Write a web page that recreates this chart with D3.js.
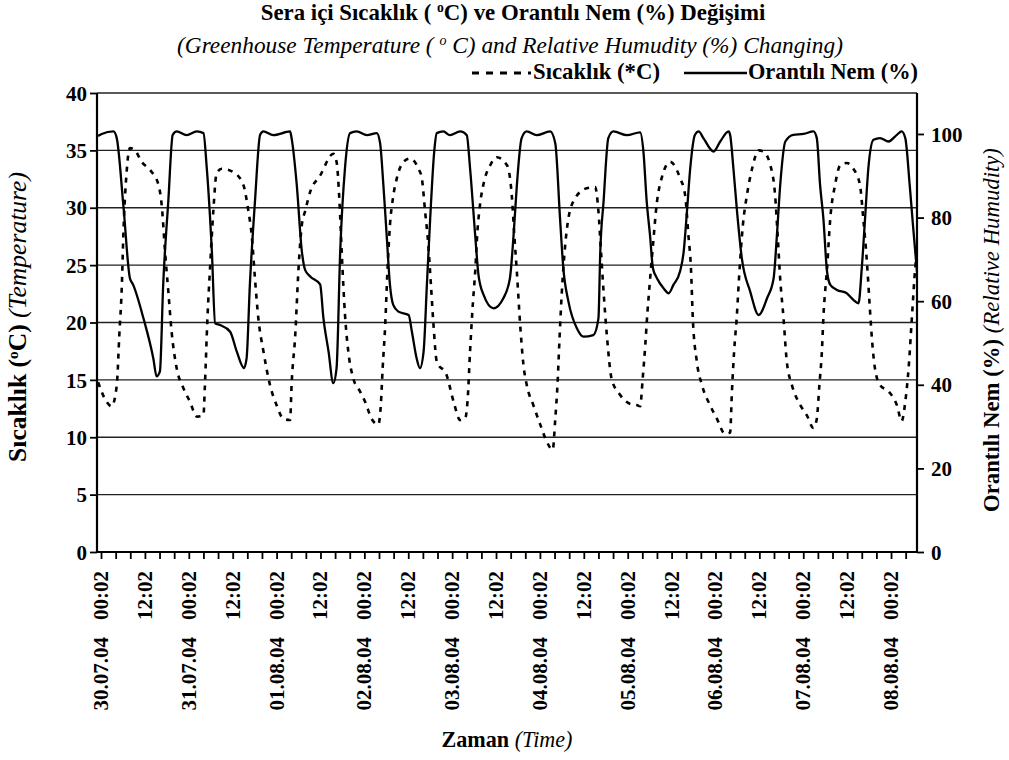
<!DOCTYPE html>
<html><head><meta charset="utf-8">
<script src="https://cdn.jsdelivr.net/npm/d3@7/dist/d3.min.js"></script>
<style>body{margin:0;background:#fff} svg{display:block} text{font-family:"Liberation Serif","Times New Roman",serif;fill:#000}</style>
</head><body><svg id="c" width="1009" height="760"></svg>
<script>
// hours since 30.07.04 00:02
const tempTime = [-0.8,1.5,2.9,4.3,5.0,5.7,6.1,7.0,7.9,9.3,11.1,13.4,15.7,16.6,17.5,18.4,19.3,20.7,22.5,24.3,26.2,28.0,28.4,29.1,29.8,30.7,31.6,33.0,36.2,38.9,40.3,41.2,42.1,43.0,44.4,46.2,48.0,49.9,51.7,52.1,53.1,54.0,54.9,55.8,57.2,59.9,63.5,64.4,65.2,65.8,66.7,67.6,69.0,70.8,72.2,74.0,75.8,76.5,77.0,77.7,78.3,79.0,79.8,80.9,82.7,84.5,86.8,87.7,88.6,89.5,90.2,90.9,91.8,94.5,96.4,98.2,99.5,100.2,100.9,101.7,102.3,102.9,103.6,105.0,106.4,108.2,111.0,112.3,113.0,113.7,114.6,115.5,116.4,118.2,120.1,121.9,123.5,124.2,124.8,125.4,126.0,126.9,127.8,129.6,132.8,135.1,136.0,136.7,137.4,138.3,139.6,141.9,144.7,146.5,147.4,148.1,148.8,149.4,150.0,150.9,152.0,153.3,155.6,158.3,159.7,160.6,161.3,161.8,162.9,164.3,166.5,168.4,170.6,172.0,172.5,173.1,173.8,174.6,175.5,176.6,178.0,179.8,181.1,183.0,184.3,185.0,185.7,186.6,187.5,188.9,191.2,193.0,194.8,195.7,196.4,197.1,197.5,198.5,199.4,200.7,202.1,203.9,205.7,207.5,208.4,209.4,210.1,210.7,211.6,213.0,215.3,217.6,218.9,219.9,220.8,221.7,222.6,223.1];
const tempValue = [14.8,13.1,12.7,14.5,18.9,23.3,27.6,33.1,35.2,35.0,34.0,33.3,32.0,30.2,26.2,22.7,19.2,16.0,14.3,13.1,11.8,11.9,14.5,20.4,24.7,29.7,33.0,33.4,33.1,32.0,29.7,27.6,23.8,20.4,17.5,14.55,12.8,11.6,11.5,14.55,18.9,24.7,28.5,29.7,31.4,32.8,34.7,34.0,30.5,26.2,20.7,17.5,15.1,14.0,13.1,11.6,11.1,12.8,16.0,19.8,24.4,28.5,30.8,32.6,34.0,34.3,33.4,32.6,29.7,26.7,23.3,19.8,16.6,15.4,13.1,11.5,11.6,13.1,17.5,21.8,24.4,27.9,30.2,32.6,33.7,34.4,33.7,31.1,27.6,24.4,19.8,16.3,14.55,12.8,11.1,9.6,8.9,11.6,14.55,18.9,22.7,26.7,29.1,30.8,31.7,31.8,29.7,26.2,22.7,18.9,15.1,13.7,12.9,12.8,12.7,15.1,18.0,20.9,23.3,26.7,30.5,32.6,34.0,32.6,31.1,27.6,24.7,20.4,16.6,14.55,12.8,11.6,10.3,10.4,14.0,17.5,20.4,24.7,28.5,31.1,33.4,35.0,34.9,33.7,31.1,27.6,23.8,20.4,16.6,14.55,12.8,11.9,10.8,11.6,14.5,17.5,20.4,24.7,29.1,32.0,33.7,33.9,33.4,32.0,29.1,25.3,21.8,18.9,16.0,14.55,14.0,12.8,11.4,13.1,16.0,20.4,24.7,26.2];
const humTime = [-0.8,0.2,3.4,4.3,6.1,7.9,8.8,11.6,14.3,15.2,16.1,17.0,18.4,19.6,20.7,23.4,26.2,28.0,28.9,30.3,31.2,32.5,35.3,37.1,39.1,39.8,40.7,42.1,43.5,44.4,47.1,51.7,52.1,53.5,54.9,55.8,57.2,59.9,60.8,62.2,63.5,64.4,65.4,66.7,68.1,69.9,72.7,75.4,76.3,77.2,78.1,79.0,79.9,81.3,84.1,85.0,86.3,87.2,88.2,89.1,90.0,91.1,91.8,93.6,95.4,98.2,100.0,100.9,102.3,103.2,104.6,107.3,110.0,111.8,112.8,113.7,115.0,116.4,119.1,122.8,124.2,125.5,126.4,127.8,130.1,131.9,134.6,136.0,136.5,137.4,138.7,140.1,143.8,147.4,148.3,149.2,150.1,150.9,152.0,153.8,155.2,156.5,158.3,159.3,160.2,161.1,162.4,163.4,164.7,167.5,169.3,171.6,172.0,172.9,173.9,175.2,177.5,179.8,182.1,183.9,184.8,185.7,187.1,189.3,192.1,194.8,195.7,196.6,197.5,198.5,199.4,201.2,203.9,205.7,207.1,208.0,208.9,209.8,211.2,213.0,215.3,217.6,218.9,219.9,221.1,222.0,223.1];
const humValue = [99.5,100,100.6,99,83,65.5,63.9,55.9,46.3,42,43.2,64,84,99.8,100.6,99.7,100.6,100.2,92,72,54.7,54.3,52.7,48,44,46.3,64,84,99.8,100.6,99.7,100.6,99,88,72,67.5,65.9,64,56,48,40.4,44,72,91.8,100.2,100.6,99.7,100.2,97.8,87.8,75.8,63.9,59.1,57.5,56.7,52.7,46.3,44,48,64,79.8,95.8,100.2,100.6,99.7,100.6,99.7,91.8,75.8,66.3,61.5,58.3,60.7,65.5,75.8,87.8,99,100.6,99.7,100.6,97.8,79.8,67.9,59.9,53.5,51.5,51.9,55.9,71.8,83.8,99,100.6,99.7,100.4,95.8,83.8,75.8,67.9,65.5,63.1,61.9,63.9,67.1,71.8,81.4,91.8,99.8,100.6,99,95.8,98.2,100.6,99.8,91.8,81.4,70.3,62.3,56.7,60.7,65.5,75.8,87.8,98.2,99.8,100,100.6,99,87.8,79.8,67.1,63.9,62.7,61.9,60.3,59.5,67.9,79.8,91.8,98.6,99,98.2,99.8,100.6,99,87.8,78.2,67];
const tempTicks = [0,5,10,15,20,25,30,35,40];
const humTicks = [0,20,40,60,80,100];
const labelHours = [0,12,24,36,48,60,72,84,96,108,120,132,144,156,168,180,192,204,216];
const timeLabels = ["00:02","12:02","00:02","12:02","00:02","12:02","00:02","12:02","00:02","12:02","00:02","12:02","00:02","12:02","00:02","12:02","00:02","12:02","00:02"];
const dateLabels = ["30.07.04","","31.07.04","","01.08.04","","02.08.04","","03.08.04","","04.08.04","","05.08.04","","06.08.04","","07.08.04","","08.08.04"];

const svg = d3.select("#c");
const L=97,R=917,T=93,B=552;
const x = d3.scaleLinear().domain([-1.1,223.1]).range([L,R]);
const yT = d3.scaleLinear().domain([0,40]).range([B,T]);
const yH = d3.scaleLinear().domain([0,109.8]).range([B,T]);

function fit(sel,w){const n=sel.node();const len=n.getComputedTextLength();const fs=parseFloat(sel.attr("font-size"));sel.attr("font-size",fs*w/len);}

// gridlines
svg.append("g").selectAll("line").data(tempTicks.filter(d=>d>0)).join("line")
  .attr("x1",L).attr("x2",R).attr("y1",d=>yT(d)).attr("y2",d=>yT(d))
  .attr("stroke","#222").attr("stroke-width",1.3);

// lines
svg.append("clipPath").attr("id","clip").append("rect").attr("x",L).attr("y",T-10).attr("width",R-L).attr("height",B-T+10);
const tData = tempTime.map((t,i)=>[t,tempValue[i]]);
const hData = humTime.map((t,i)=>[t,humValue[i]]);
svg.append("path").attr("clip-path","url(#clip)").datum(tData)
  .attr("d",d3.line().x(d=>x(d[0])).y(d=>yT(d[1])).curve(d3.curveMonotoneX))
  .attr("fill","none").attr("stroke","#000").attr("stroke-width",2.6).attr("stroke-dasharray","5,6");
svg.append("path").attr("clip-path","url(#clip)").datum(hData)
  .attr("d",d3.line().x(d=>x(d[0])).y(d=>yH(d[1])).curve(d3.curveMonotoneX))
  .attr("fill","none").attr("stroke","#000").attr("stroke-width",2.3);

// axes
const axL = svg.append("g").attr("transform",`translate(${L},0)`).call(d3.axisLeft(yT).tickValues(tempTicks).tickSize(7).tickFormat(d3.format("d")));
const axR = svg.append("g").attr("transform",`translate(${R},0)`).call(d3.axisRight(yH).tickValues(humTicks).tickSize(7).tickFormat(d3.format("d")));
const axB = svg.append("g").attr("transform",`translate(0,${B})`).call(d3.axisBottom(x).tickValues(d3.range(0,224,4)).tickSize(7).tickFormat(""));
[axL,axR,axB].forEach(a=>{a.select(".domain").attr("stroke","#000").attr("stroke-width",2.2);a.selectAll(".tick line").attr("stroke","#000").attr("stroke-width",1.8);});
axL.select(".domain").attr("d",`M0,${T}V${B}`);
axR.select(".domain").attr("d",`M0,${T}V${B}`);
axB.select(".domain").attr("d",`M${L},0H${R}`);
axL.selectAll("text").attr("font-size",21).attr("font-weight","bold").attr("font-family","Liberation Serif").attr("x",-10).attr("dy","0.34em");
axR.selectAll("text").attr("font-size",21).attr("font-weight","bold").attr("font-family","Liberation Serif").attr("x",14).attr("dy","0.34em");

// x labels
const xl = svg.append("g");
labelHours.forEach((h,i)=>{
  xl.append("text").attr("transform",`translate(${x(h)+7},571) rotate(-90)`).attr("text-anchor","end")
    .attr("font-size",21).attr("font-weight","bold").text(timeLabels[i]);
  if(dateLabels[i]) xl.append("text").attr("transform",`translate(${x(h)+7},637) rotate(-90)`).attr("text-anchor","end")
    .attr("font-size",21).attr("font-weight","bold").text(dateLabels[i]);
});

// titles
const t1 = svg.append("text").attr("x",513).attr("y",20).attr("text-anchor","middle").attr("font-size",20).attr("font-weight","bold");
t1.append("tspan").text("Sera içi Sıcaklık ( ");
t1.append("tspan").attr("font-size","0.6em").attr("dy","-0.55em").text("o");
t1.append("tspan").attr("dy","0.33em").text("C) ve Orantılı Nem (%) Değişimi");
fit(t1,505);
const t2 = svg.append("text").attr("x",510).attr("y",53).attr("text-anchor","middle").attr("font-size",18).attr("font-style","italic");
t2.append("tspan").text("(Greenhouse Temperature ( ");
t2.append("tspan").attr("font-size","0.6em").attr("dy","-0.55em").text("o");
t2.append("tspan").attr("dy","0.33em").text(" C) and Relative Humudity (%) Changing)");
fit(t2,666);

// legend
svg.append("line").attr("x1",472).attr("x2",531).attr("y1",73).attr("y2",73).attr("stroke","#000").attr("stroke-width",3).attr("stroke-dasharray","7,7");
const lg1 = svg.append("text").attr("x",533).attr("y",79).attr("font-size",18).attr("font-weight","bold").text("Sıcaklık (*C)");
fit(lg1,127);
svg.append("line").attr("x1",684).attr("x2",747).attr("y1",73).attr("y2",73).attr("stroke","#000").attr("stroke-width",2.3);
const lg2 = svg.append("text").attr("x",748).attr("y",79).attr("font-size",18).attr("font-weight","bold").text("Orantılı Nem (%)");
fit(lg2,170);

// y titles
const yl = svg.append("text").attr("transform","translate(26,317) rotate(-90)").attr("text-anchor","middle").attr("font-size",17);
yl.append("tspan").attr("font-weight","bold").text("Sıcaklık (");
yl.append("tspan").attr("font-weight","bold").attr("font-size","0.6em").attr("dy","-0.55em").text("o");
yl.append("tspan").attr("font-weight","bold").attr("dy","0.33em").text("C) ");
yl.append("tspan").attr("font-style","italic").text("(Temperature)");
fit(yl,290);
const yr = svg.append("text").attr("transform","translate(999,330) rotate(-90)").attr("text-anchor","middle").attr("font-size",17);
yr.append("tspan").attr("font-weight","bold").text("Orantılı Nem (%)  ");
yr.append("tspan").attr("font-style","italic").text("(Relative Humudity)");
fit(yr,364);
const xt = svg.append("text").attr("x",507).attr("y",747).attr("text-anchor","middle").attr("font-size",18);
xt.append("tspan").attr("font-weight","bold").text("Zaman ");
xt.append("tspan").attr("font-style","italic").text("(Time)");
fit(xt,131);
</script></body></html>
